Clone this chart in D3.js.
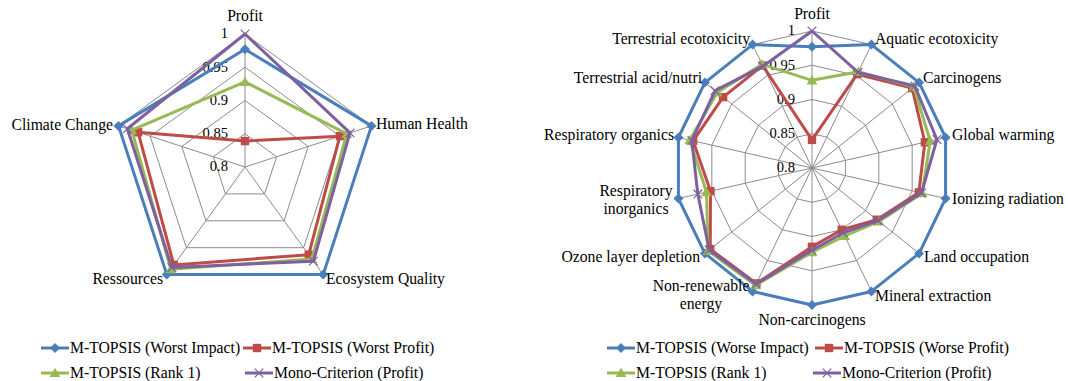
<!DOCTYPE html>
<html><head><meta charset="utf-8">
<script src="https://cdn.jsdelivr.net/npm/d3@7"></script>
<style>
html,body{margin:0;padding:0;background:#fff;}
svg{display:block;}
</style></head>
<body><svg id="chart" width="1068" height="381"></svg>
<script>
// ---------- DATA ----------
const ticks = [0.8, 0.85, 0.9, 0.95, 1];
const tickLabels = ["0.8", "0.85", "0.9", "0.95", "1"];

// Left chart
const leftCategories = ["Profit", "Human Health", "Ecosystem Quality", "Ressources", "Climate Change"];
const leftWorstImpact = [0.977, 1.0, 1.0, 1.0, 1.0];
const leftWorstProfit = [0.839, 0.950, 0.963, 0.982, 0.969];
const leftRank1      = [0.928, 0.961, 0.971, 0.990, 0.979];
const leftMono       = [1.0, 0.966, 0.975, 0.987, 0.986];
const leftLegend = ["M-TOPSIS (Worst Impact)", "M-TOPSIS (Worst Profit)", "M-TOPSIS (Rank 1)", "Mono-Criterion (Profit)"];

// Right chart
const rightCategories = ["Profit", "Aquatic ecotoxicity", "Carcinogens", "Global warming", "Ionizing radiation",
  "Land occupation", "Mineral extraction", "Non-carcinogens", "Non-renewable\nenergy", "Ozone layer depletion",
  "Respiratory\ninorganics", "Respiratory organics", "Terrestrial acid/nutri", "Terrestrial ecotoxicity"];
const rightWorseImpact = [0.977, 1, 1, 1, 1, 1, 1, 1, 1, 1, 1, 1, 1, 1];
const rightWorseProfit = [0.841, 0.952, 0.987, 0.969, 0.960, 0.921, 0.900, 0.915, 0.987, 0.990, 0.952, 0.978, 0.966, 0.966];
const rightRank1       = [0.928, 0.956, 0.990, 0.977, 0.965, 0.925, 0.910, 0.923, 0.990, 0.994, 0.958, 0.983, 0.977, 0.968];
const rightMono        = [1.0,   0.955, 0.992, 0.987, 0.964, 0.923, 0.905, 0.920, 0.988, 0.992, 0.971, 0.980, 0.981, 0.965];
const rightLegend = ["M-TOPSIS (Worse Impact)", "M-TOPSIS (Worse Profit)", "M-TOPSIS (Rank 1)", "Mono-Criterion (Profit)"];

// ---------- STYLE ----------
const colors = ["#4A7EBB", "#BE4B48", "#98B954", "#7D60A0"];
const markers = ["diamond", "square", "triangle", "x"];
const FONT = 15.7;
const TICKFONT = 14.6;
const FAMILY = "Liberation Serif";

const svg = d3.select("#chart");

function drawMarker(g, type, x, y, color) {
  if (type === "diamond") {
    g.append("path").attr("d", d3.symbol(d3.symbolSquare, 50)())
      .attr("transform", `translate(${x},${y}) rotate(45)`).attr("fill", color);
  } else if (type === "square") {
    g.append("path").attr("d", d3.symbol(d3.symbolSquare, 70)())
      .attr("transform", `translate(${x},${y})`).attr("fill", color);
  } else if (type === "triangle") {
    g.append("path").attr("d", d3.symbol(d3.symbolTriangle, 50)())
      .attr("transform", `translate(${x},${y + 1})`).attr("fill", color);
  } else {
    g.append("path").attr("d", d3.symbol(d3.symbolTimes, 50)())
      .attr("transform", `translate(${x},${y})`).attr("fill", "none")
      .attr("stroke", color).attr("stroke-width", 1.2);
  }
}

function radar(cfg) {
  const { cx, cy, R, cats, series, labelPos } = cfg;
  const g = svg.append("g").attr("transform", `translate(${cx},${cy})`);
  const r = d3.scaleLinear().domain([0.8, 1]).range([0, R]);
  const n = cats.length;
  const ang = d3.scaleLinear().domain([0, n]).range([0, 2 * Math.PI]);
  const pt = (i, v) => [Math.sin(ang(i)) * r(v), -Math.cos(ang(i)) * r(v)];

  ticks.slice(1).forEach(t => {
    g.append("path")
      .attr("d", d3.line()(d3.range(n).map(i => pt(i, t))) + "Z")
      .attr("fill", "none").attr("stroke", "#8c8c8c").attr("stroke-width", 1);
  });
  d3.range(n).forEach(i => {
    const p = pt(i, 1);
    g.append("line").attr("x1", 0).attr("y1", 0).attr("x2", p[0]).attr("y2", p[1])
      .attr("stroke", "#8c8c8c").attr("stroke-width", 1);
  });
  ticks.forEach((t, k) => {
    g.append("text").attr("x", -17).attr("y", -r(t) + 1)
      .attr("text-anchor", "end").attr("dominant-baseline", "middle")
      .attr("font-family", FAMILY)
      .attr("font-size", TICKFONT).attr("fill", "#000").text(tickLabels[k]);
  });
  series.forEach((vals, s) => {
    const pts = vals.map((v, i) => pt(i, v));
    g.append("path").attr("d", d3.line()(pts) + "Z")
      .attr("fill", "none").attr("stroke", colors[s]).attr("stroke-width", 3)
      .attr("stroke-linejoin", "round");
    pts.forEach(p => drawMarker(g, markers[s], p[0], p[1], colors[s]));
  });
  cats.forEach((c, i) => {
    const lp = labelPos[i];
    const lines = c.split("\n");
    const t = g.append("text").attr("x", lp[0]).attr("y", lp[1])
      .attr("text-anchor", lp[2]).attr("dominant-baseline", "middle")
      .attr("font-family", FAMILY)
      .attr("font-size", FONT).attr("fill", "#000");
    lines.forEach((ln, j) => {
      t.append("tspan").attr("x", lp[0]).attr("dy", j === 0 ? 0 : 17.5).text(ln);
    });
  });
}

function legend(cfg) {
  const g = svg.append("g");
  cfg.items.forEach((it, k) => {
    const [x0, y] = cfg.pos[k];
    g.append("line").attr("x1", x0).attr("x2", x0 + 28).attr("y1", y).attr("y2", y)
      .attr("stroke", colors[k]).attr("stroke-width", 3);
    drawMarker(g, markers[k], x0 + 14, y, colors[k]);
    g.append("text").attr("x", x0 + 29).attr("y", y + 1).attr("dominant-baseline", "middle")
      .attr("font-family", FAMILY)
      .attr("font-size", FONT).attr("fill", "#000").text(it);
  });
}

radar({
  cx: 245, cy: 167, R: 133, cats: leftCategories,
  series: [leftWorstImpact, leftWorstProfit, leftRank1, leftMono],
  labelPos: [[0, -150, "middle"], [131, -42, "start"], [81, 113, "start"], [-82, 113, "end"], [-132, -41, "end"]]
});
legend({ items: leftLegend, pos: [[41, 348], [243, 348], [41, 373], [245, 373]] });

radar({
  cx: 812, cy: 168, R: 137, cats: rightCategories,
  series: [rightWorseImpact, rightWorseProfit, rightRank1, rightMono],
  labelPos: [[0, -153, "middle"], [63, -128, "start"], [111, -89, "start"], [140, -32, "start"],
    [140, 32, "start"], [112, 90, "start"], [63, 129, "start"], [0, 153, "middle"],
    [-111, 119, "middle"], [-112, 90, "end"], [-176, 24, "middle"], [-138, -32, "end"],
    [-110, -89, "end"], [-62, -128, "end"]]
});
legend({ items: rightLegend, pos: [[607, 348], [815, 348], [607, 373], [813, 373]] });
</script>
</body></html>
